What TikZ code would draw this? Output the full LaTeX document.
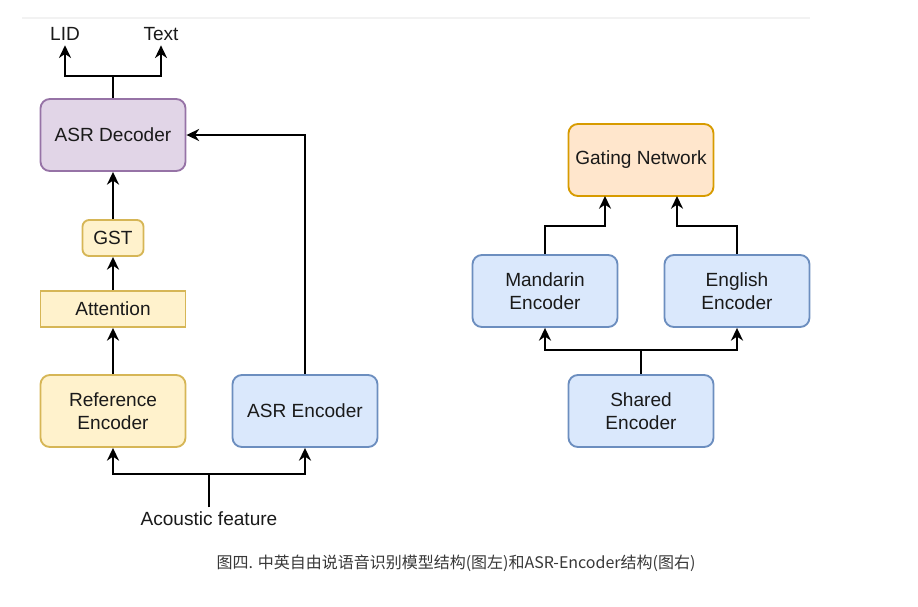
\documentclass[tikz,border=0pt]{standalone}
\usepackage{fontspec}
\setmainfont{Liberation Sans}
\newfontfamily\cjk{Noto Sans CJK SC}
\usepackage{tikz}
\usetikzlibrary{arrows.meta,positioning,calc}
\definecolor{purpfill}{HTML}{E1D5E7}
\definecolor{purpline}{HTML}{9673A6}
\definecolor{yelfill}{HTML}{FFF2CC}
\definecolor{yelline}{HTML}{D6B656}
\definecolor{bluefill}{HTML}{DAE8FC}
\definecolor{blueline}{HTML}{6C8EBF}
\definecolor{orgfill}{HTML}{FFE6CC}
\definecolor{orgline}{HTML}{D79B00}
\definecolor{ink}{HTML}{1A1A1A}
\tikzset{
  block/.style={rounded corners=7pt, line width=1.4pt, minimum width=108.75pt,
              minimum height=54pt, align=center, text=ink,
              font=\fontsize{14.3}{17.5}\selectfont},
  dec/.style={block, draw=purpline, fill=purpfill},
  yel/.style={block, draw=yelline, fill=yelfill},
  enc/.style={block, draw=blueline, fill=bluefill},
  gate/.style={block, draw=orgline, fill=orgfill},
  lbl/.style={text=ink, font=\fontsize{14.3}{17.5}\selectfont},
  flow/.style={-{Stealth[length=9.5pt, width=9pt, inset=3pt]}, line width=1.6pt, black},
  wire/.style={line width=1.6pt, black},
}
\begin{document}
\begin{tikzpicture}[x=0.75pt, y=-0.75pt]
        \useasboundingbox (0,0) rectangle (918,607);
        \draw[black!5, line width=0.8pt] (22,18) -- (810,18);
        % ===================== left: model =====================
        \node[dec] (dec) at (113,135) {ASR Decoder};
        \node[yel, minimum width=45.75pt, minimum height=27pt, rounded corners=5pt] (gst) at (113,238) {GST};
        \node[yel, rounded corners=0pt, minimum height=27pt] (att) at (113,309) {Attention};
        \node[yel] (ref) at (113,411) {Reference\\Encoder};
        \node[enc] (asrenc) at (305,411) {ASR Encoder};
        \node[lbl] (lid) at (65,34) {LID};
        \node[lbl] (txt) at (161,34) {Text};
        \node[lbl] (feat) at (209,519) {Acoustic feature};
        \coordinate (split) at (113,76);
        \coordinate (feattop) at (209,474);
        \draw[wire] (dec.north) -- (split);
        \draw[flow] (split) -| (lid.south);
        \draw[flow] (split) -| (txt.south);
        \draw[flow] (gst) -- (dec);
        \draw[flow] (att) -- (gst);
        \draw[flow] (ref) -- (att);
        \draw[flow] (asrenc.north) |- (dec.east);
        \draw[wire] (feat.north) -- (feattop);
        \draw[flow] (feattop) -| (ref.south);
        \draw[flow] (feattop) -| (asrenc.south);
        % ===================== right: ASR-Encoder =====================
        \node[gate] (gating) at (641,160) {Gating Network};
        \node[enc] (mand) at (545,291) {Mandarin\\Encoder};
        \node[enc] (eng) at (737,291) {English\\Encoder};
        \node[enc] (shared) at (641,411) {Shared\\Encoder};
        \coordinate (fork) at (641,350);
        \draw[wire] (shared.north) -- (fork);
        \draw[flow] (fork) -| (mand.south);
        \draw[flow] (fork) -| (eng.south);
        \draw[flow] (mand.north) |- (605,226) -- (605,196);
        \draw[flow] (eng.north) |- (677,226) -- (677,196);
        % ===================== caption =====================
        \node[text=black!78, font=\cjk\fontsize{12}{14.5}\selectfont] (cap) at (456,563)
          {图四. 中英自由说语音识别模型结构(图左)和ASR-Encoder结构(图右)};
      \end{tikzpicture}
\end{document}
